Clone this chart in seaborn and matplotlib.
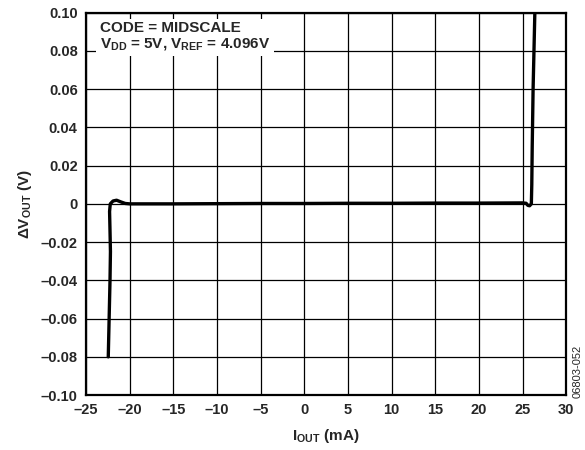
import pandas as pd
import matplotlib
matplotlib.use('Agg')
import matplotlib.pyplot as plt
import seaborn as sns

# Output voltage change vs load current
i_out = [-22.45, -22.35, -22.25, -22.2, -22.26, -22.3, -22.22, -21.9, -21.5, -21.0, -20.5, -20.0,
         -15.0, -10.0, -5.0, 0.0, 5.0, 10.0, 15.0, 20.0, 25.0,
         25.4, 25.6, 25.8, 26.0, 26.05, 26.1, 26.2, 26.3, 26.4]
dv_out = [-0.080, -0.060, -0.040, -0.025, -0.012, -0.004, 0.0, 0.0015, 0.0019, 0.001, 0.0002, 0.0,
          0.0, 0.0001, 0.0002, 0.0002, 0.0003, 0.0003, 0.0004, 0.0004, 0.0005,
          0.0003, -0.0008, -0.001, 0.0, 0.01, 0.03, 0.06, 0.08, 0.10]

x_ticks = [-25, -20, -15, -10, -5, 0, 5, 10, 15, 20, 25, 30]
x_labels = ['–25', '–20', '–15', '–10', '–5', '0', '5', '10', '15', '20', '25', '30']
y_ticks = [-0.10, -0.08, -0.06, -0.04, -0.02, 0.0, 0.02, 0.04, 0.06, 0.08, 0.10]
y_labels = ['–0.10', '–0.08', '–0.06', '–0.04', '–0.02', '0', '0.02', '0.04', '0.06', '0.08', '0.10']

df = pd.DataFrame({'I': i_out, 'dV': dv_out})

sns.set_style('white')
plt.rcParams['font.family'] = ['Liberation Sans', 'DejaVu Sans']
plt.rcParams['font.weight'] = 'bold'
plt.rcParams['mathtext.fontset'] = 'custom'
plt.rcParams['mathtext.rm'] = 'Liberation Sans:bold'
plt.rcParams['mathtext.bf'] = 'Liberation Sans:bold'
plt.rcParams['mathtext.default'] = 'bf'

fig = plt.figure(figsize=(5.85, 4.5), dpi=100)
ax = fig.add_axes([0.147, 0.122, 0.821, 0.850])

sns.lineplot(data=df, x='I', y='dV', sort=False, estimator=None,
             color='black', linewidth=2.4, ax=ax, zorder=3)

ax.set_xlim(-25, 30)
ax.set_ylim(-0.10, 0.10)
ax.set_xticks(x_ticks)
ax.set_xticklabels(x_labels)
ax.set_yticks(y_ticks)
ax.set_yticklabels(y_labels)
ax.tick_params(labelsize=10.5, length=0)
ax.tick_params(axis='x', pad=6)
ax.tick_params(axis='y', pad=6)
ax.grid(True, color='black', linewidth=0.9)
for s in ax.spines.values():
    s.set_color('black')
    s.set_linewidth(1.6)

ax.set_xlabel('I$_{OUT}$ (mA)', fontsize=11, fontweight='bold', labelpad=7)
ax.set_ylabel('ΔV$_{OUT}$ (V)', fontsize=11, fontweight='bold', labelpad=5)

ax.text(-23.4, 0.0955, 'CODE = MIDSCALE\nV$_{DD}$ = 5V, V$_{REF}$ = 4.096V',
        fontsize=11, fontweight='bold', va='top', ha='left', linespacing=1.1,
        bbox=dict(facecolor='white', edgecolor='none', pad=3), zorder=4)

fig.text(0.988, 0.116, '06803-052', rotation=90, fontsize=8, fontweight='normal',
         ha='center', va='bottom')

fig.savefig('out.png', dpi=100)
